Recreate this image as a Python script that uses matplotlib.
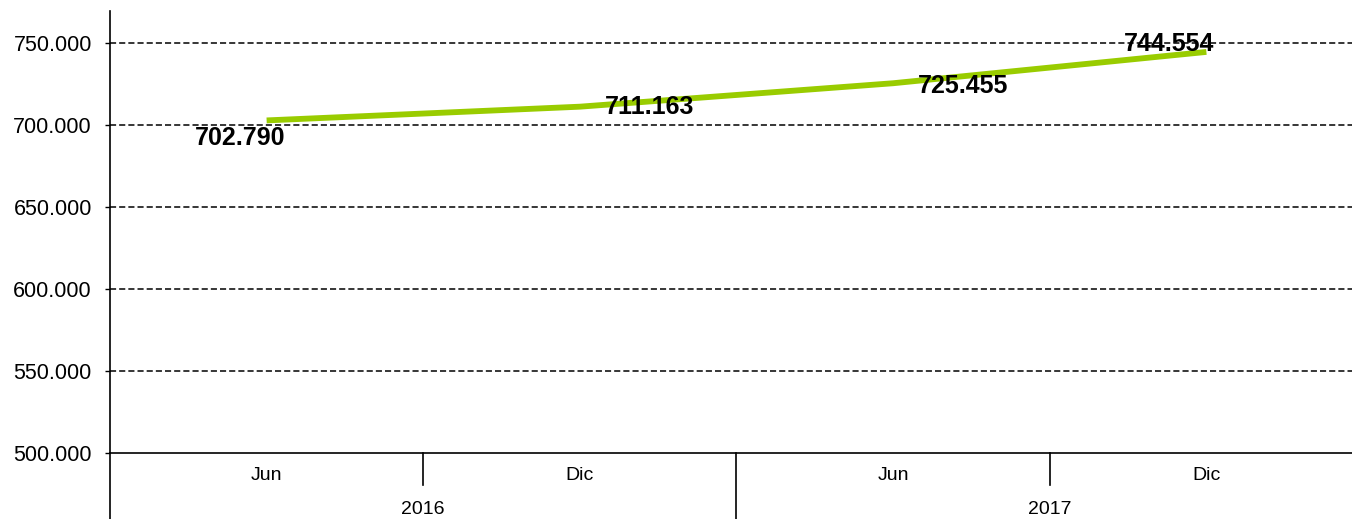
import numpy as np
import matplotlib
matplotlib.use('Agg')
import matplotlib.pyplot as plt

plt.rcParams['font.family'] = ['Liberation Sans', 'DejaVu Sans']

# data
months = ['Jun', 'Dic', 'Jun', 'Dic']
years = ['2016', '2017']
values = [702790, 711163, 725455, 744554]
yticks = [500000, 550000, 600000, 650000, 700000, 750000]

# label offsets in points (dx, dy) - placement as seen in the picture
label_offsets = [(-19, -13), (50, 0), (50, -2), (-27, 6)]

W, H = 1352, 519
fig = plt.figure(figsize=(W / 100, H / 100), dpi=100)
left, right, top, bottom = 110, 1363, 11, 453
ax = fig.add_axes([left / W, 1 - bottom / H, (right - left) / W, (bottom - top) / H])

x = np.arange(len(values)) + 0.5
ax.plot(x, values, color='#99CC00', lw=4.2, solid_capstyle='butt', zorder=3)

for xi, v, (dx, dy) in zip(x, values, label_offsets):
    txt = f'{v:,}'.replace(',', '.')
    ax.annotate(txt, (xi, v), xytext=(dx, dy), textcoords='offset points',
                ha='center', va='center', fontsize=18, fontweight='bold', zorder=4)

ax.set_xlim(0, 4)
ax.set_ylim(500000, 769500)
ax.set_yticks(yticks)
ax.set_yticklabels([f'{t:,}'.replace(',', '.') for t in yticks], fontsize=15.5)
ax.tick_params(axis='y', direction='out', length=3.6, width=1, pad=9.5)
ax.set_xticks([])

for t in yticks[1:]:
    ax.axhline(t, color='black', lw=1.1, linestyle=(0, (4, 2)), zorder=1)

for s in ['top', 'right']:
    ax.spines[s].set_visible(False)
ax.spines['left'].set_linewidth(1.2)
ax.spines['bottom'].set_linewidth(1.2)

# category axis: month labels, year labels and separators
tr = ax.get_xaxis_transform()
ax_h = bottom - top
for xi, m in zip(x, months):
    ax.text(xi, -(476 - bottom) / ax_h, m, transform=tr, ha='center', va='center', fontsize=14)
for i, yr in enumerate(years):
    ax.text(2 * i + 1, -(510 - bottom) / ax_h, yr, transform=tr, ha='center', va='center', fontsize=14)

low = -(H - bottom + 2) / ax_h
short = -(485 - bottom) / ax_h
for xs, yend in [(0, low), (1, short), (2, low), (3, short)]:
    ax.plot([xs, xs], [0, yend], transform=tr, color='black', lw=1.2, clip_on=False)

fig.savefig('out.png', dpi=100)
